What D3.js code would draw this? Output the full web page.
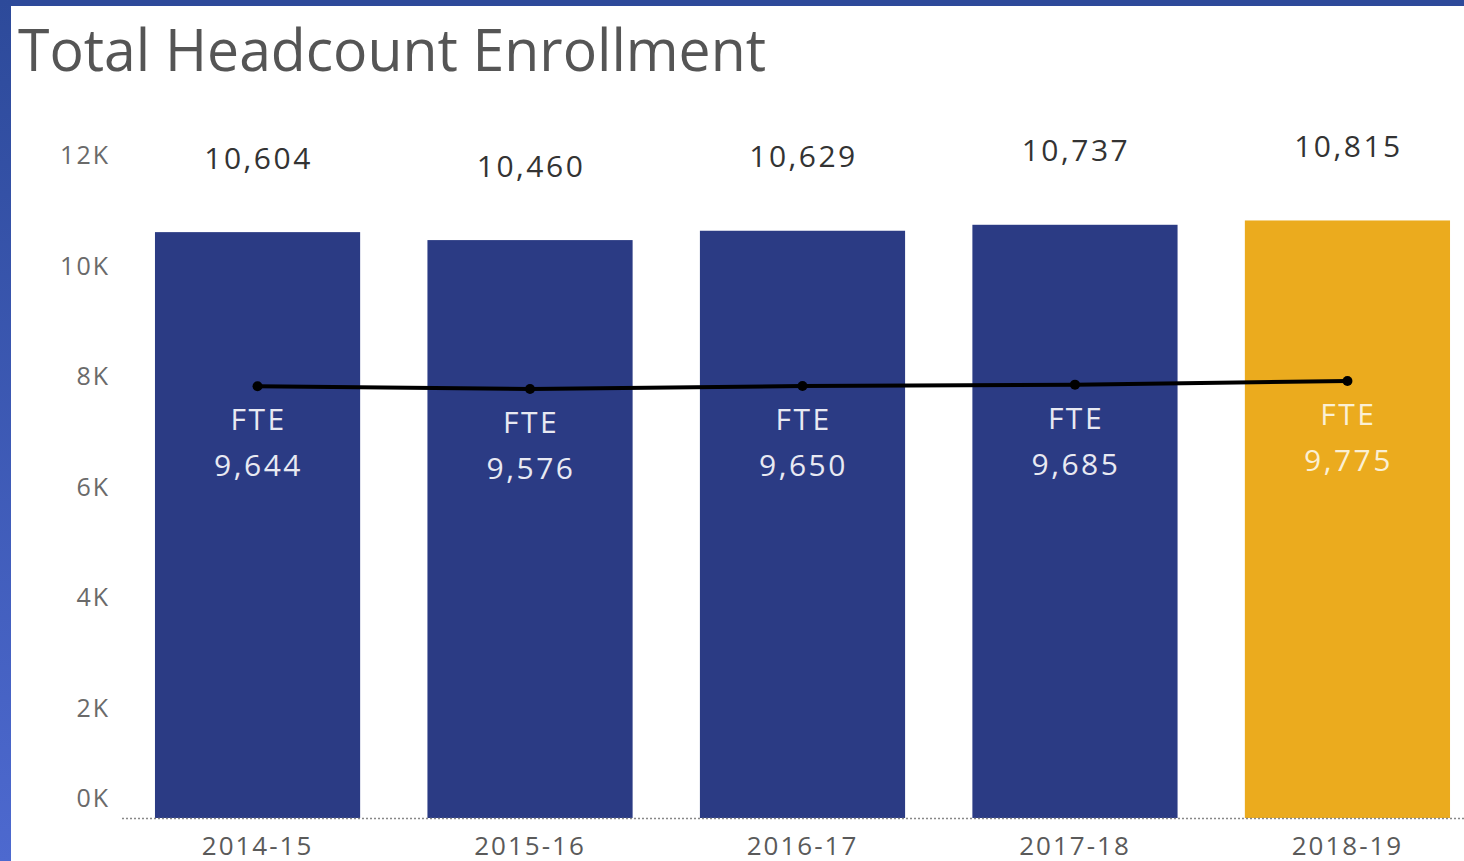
<!DOCTYPE html>
<html>
<head>
<meta charset="utf-8">
<script src="https://cdn.jsdelivr.net/npm/d3@7"></script>
<style>
  body { margin: 0; background: #fff; overflow: hidden; }
  svg { display: block; font-family: "Open Sans", "Noto Sans", sans-serif; }
</style>
</head>
<body>
<div id="chart"></div>
<script>
var width = 1464;
var height = 861;

// data
var years = ["2014-15", "2015-16", "2016-17", "2017-18", "2018-19"];
var headcount = [10604, 10460, 10629, 10737, 10815];
var fte = [9644, 9576, 9650, 9685, 9775];
var yTicks = [0, 2000, 4000, 6000, 8000, 10000, 12000];
var highlight = "2018-19";

var svg = d3.select('#chart').append('svg')
    .attr("width", width)
    .attr("height", height);

// frame of the screenshot
var grad = svg.append("defs").append("linearGradient")
    .attr("id", "frame").attr("x1", 0).attr("y1", 0).attr("x2", 0).attr("y2", 1);
grad.append("stop").attr("offset", "0%").attr("stop-color", "#2d4a9a");
grad.append("stop").attr("offset", "100%").attr("stop-color", "#4d69cf");
svg.append("rect").attr("x", 0).attr("y", 0).attr("width", width).attr("height", 6).attr("fill", "#2e4a9a");
svg.append("rect").attr("x", 0).attr("y", 0).attr("width", 11).attr("height", height).attr("fill", "url(#frame)");

svg.append("text")
    .attr("x", 18)
    .attr("y", 71)
    .attr("font-size", 58)
    .attr("fill", "#555")
    .attr("textLength", 748)
    .attr("lengthAdjust", "spacingAndGlyphs")
    .text("Total Headcount Enrollment");

var x = d3.scaleBand()
    .domain(years)
    .range([122, 1483])
    .paddingInner(0.247)
    .paddingOuter(0.121);

var y = d3.scaleLinear()
    .domain([0, 12000])
    .range([818, 155]);

// hidden second axis for the FTE line
var y2 = d3.scaleLinear()
    .domain([-1100, 15400])
    .range([818, 155]);

// y axis labels
var yAxis = svg.append("g")
    .attr("transform", "translate(110,0)")
    .call(d3.axisLeft(y).tickValues(yTicks).tickSize(0).tickPadding(0)
        .tickFormat(function(d) { return (d / 1000) + "K"; }));
yAxis.select(".domain").remove();
yAxis.selectAll("text")
    .attr("font-size", 25)
    .attr("font-family", "'Open Sans', sans-serif")
    .attr("letter-spacing", 2)
    .attr("fill", "#6a6a6a")
    .attr("dy", function(d) { return d === 0 ? "-0.45em" : "0.35em"; });

// bars
svg.append("g")
    .selectAll("rect")
    .data(years)
    .enter()
    .append("rect")
    .attr("x", function(d) { return x(d); })
    .attr("width", x.bandwidth())
    .attr("y", function(d, i) { return y(headcount[i]); })
    .attr("height", function(d, i) { return y(0) - y(headcount[i]); })
    .attr("fill", function(d) { return d === highlight ? "#ebab1e" : "#2b3b84"; });

// baseline
svg.append("line")
    .attr("x1", 122).attr("x2", width)
    .attr("y1", y(0) + 0.5).attr("y2", y(0) + 0.5)
    .attr("stroke", "#888")
    .attr("stroke-width", 1.5)
    .attr("stroke-dasharray", "2,2");

// x axis labels
var xAxis = svg.append("g")
    .attr("transform", "translate(0," + y(0) + ")")
    .call(d3.axisBottom(x).tickSize(0).tickPadding(19));
xAxis.select(".domain").remove();
xAxis.selectAll("text")
    .attr("font-size", 26)
    .attr("font-family", "'Open Sans', sans-serif")
    .attr("letter-spacing", 2)
    .attr("fill", "#5a5a5a");

// headcount labels
svg.append("g")
    .selectAll("text")
    .data(years)
    .enter()
    .append("text")
    .attr("x", function(d) { return x(d) + x.bandwidth() / 2 + 1; })
    .attr("y", function(d, i) { return y(headcount[i]) - 74; })
    .attr("dy", "0.35em")
    .attr("text-anchor", "middle")
    .attr("font-size", 30)
    .attr("letter-spacing", 2.5)
    .attr("fill", "#333")
    .text(function(d, i) { return d3.format(",")(headcount[i]); });

// FTE line
var line = d3.line()
    .x(function(d, i) { return x(years[i]) + x.bandwidth() / 2; })
    .y(function(d) { return y2(d); });

svg.append("path")
    .datum(fte)
    .attr("d", line)
    .attr("fill", "none")
    .attr("stroke", "#000")
    .attr("stroke-width", 4);

svg.append("g")
    .selectAll("circle")
    .data(fte)
    .enter()
    .append("circle")
    .attr("cx", function(d, i) { return x(years[i]) + x.bandwidth() / 2; })
    .attr("cy", function(d) { return y2(d); })
    .attr("r", 5)
    .attr("fill", "#000");

// FTE labels
var fteLabels = svg.append("g")
    .selectAll("text")
    .data(fte)
    .enter()
    .append("text")
    .attr("x", function(d, i) { return x(years[i]) + x.bandwidth() / 2; })
    .attr("y", function(d) { return y2(d); })
    .attr("text-anchor", "middle")
    .attr("font-size", 30)
    .attr("letter-spacing", 2.5)
    .attr("fill", function(d, i) { return years[i] === highlight ? "#fbf0d4" : "#e8e9f2"; });

fteLabels.append("tspan")
    .attr("x", function(d, i) { return x(years[i]) + x.bandwidth() / 2 + 1; })
    .attr("dy", 44)
    .text("FTE");
fteLabels.append("tspan")
    .attr("x", function(d, i) { return x(years[i]) + x.bandwidth() / 2 + 1; })
    .attr("dy", 46)
    .text(function(d) { return d3.format(",")(d); });
</script>
</body>
</html>
